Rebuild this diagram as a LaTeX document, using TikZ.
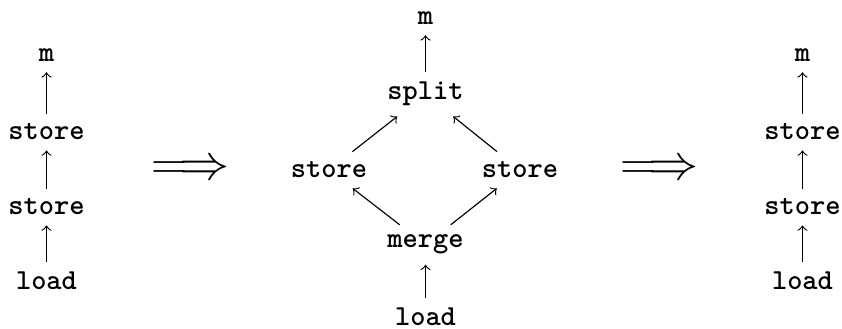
\documentclass[tikz,border=0pt]{standalone}
\begin{document}
\begin{tikzpicture}[x=0.345pt,y=-0.345pt,
  lbl/.style={font=\ttfamily\bfseries, anchor=base},
  imp/.style={font=\LARGE, inner sep=0pt},
  ar/.style={->, line width=0.4pt}]
\useasboundingbox (0,0) rectangle (842,329);
% left column
\node[lbl] (lm) at (46.5,62) {m};
\node[lbl] (ls1) at (46.5,140) {store};
\node[lbl] (ls2) at (46.5,215) {store};
\node[lbl] (ll) at (46.5,290) {load};
\draw[ar] (ll) -- (ls2);
\draw[ar] (ls2) -- (ls1);
\draw[ar] (ls1) -- (lm);
% implies arrows
\node[imp] (i1) at (190.5,170) {$\Longrightarrow$};
\node[imp] (i2) at (659.5,170) {$\Longrightarrow$};
% middle
\node[lbl] (mm) at (425.5,25) {m};
\node[lbl] (msp) at (425.5,100) {split};
\node[lbl] (msl) at (329,178) {store};
\node[lbl] (msr) at (520,178) {store};
\node[lbl] (mme) at (425.5,248) {merge};
\node[lbl] (mlo) at (425.5,326) {load};
\draw[ar] (mlo) -- (mme);
\draw[ar] (mme) -- (msl);
\draw[ar] (mme) -- (msr);
\draw[ar] (msl) -- (msp);
\draw[ar] (msr) -- (msp);
\draw[ar] (msp) -- (mm);
% right column
\node[lbl] (rm) at (802.5,62) {m};
\node[lbl] (rs1) at (802.5,140) {store};
\node[lbl] (rs2) at (802.5,215) {store};
\node[lbl] (rl) at (802.5,290) {load};
\draw[ar] (rl) -- (rs2);
\draw[ar] (rs2) -- (rs1);
\draw[ar] (rs1) -- (rm);
\end{tikzpicture}
\end{document}
